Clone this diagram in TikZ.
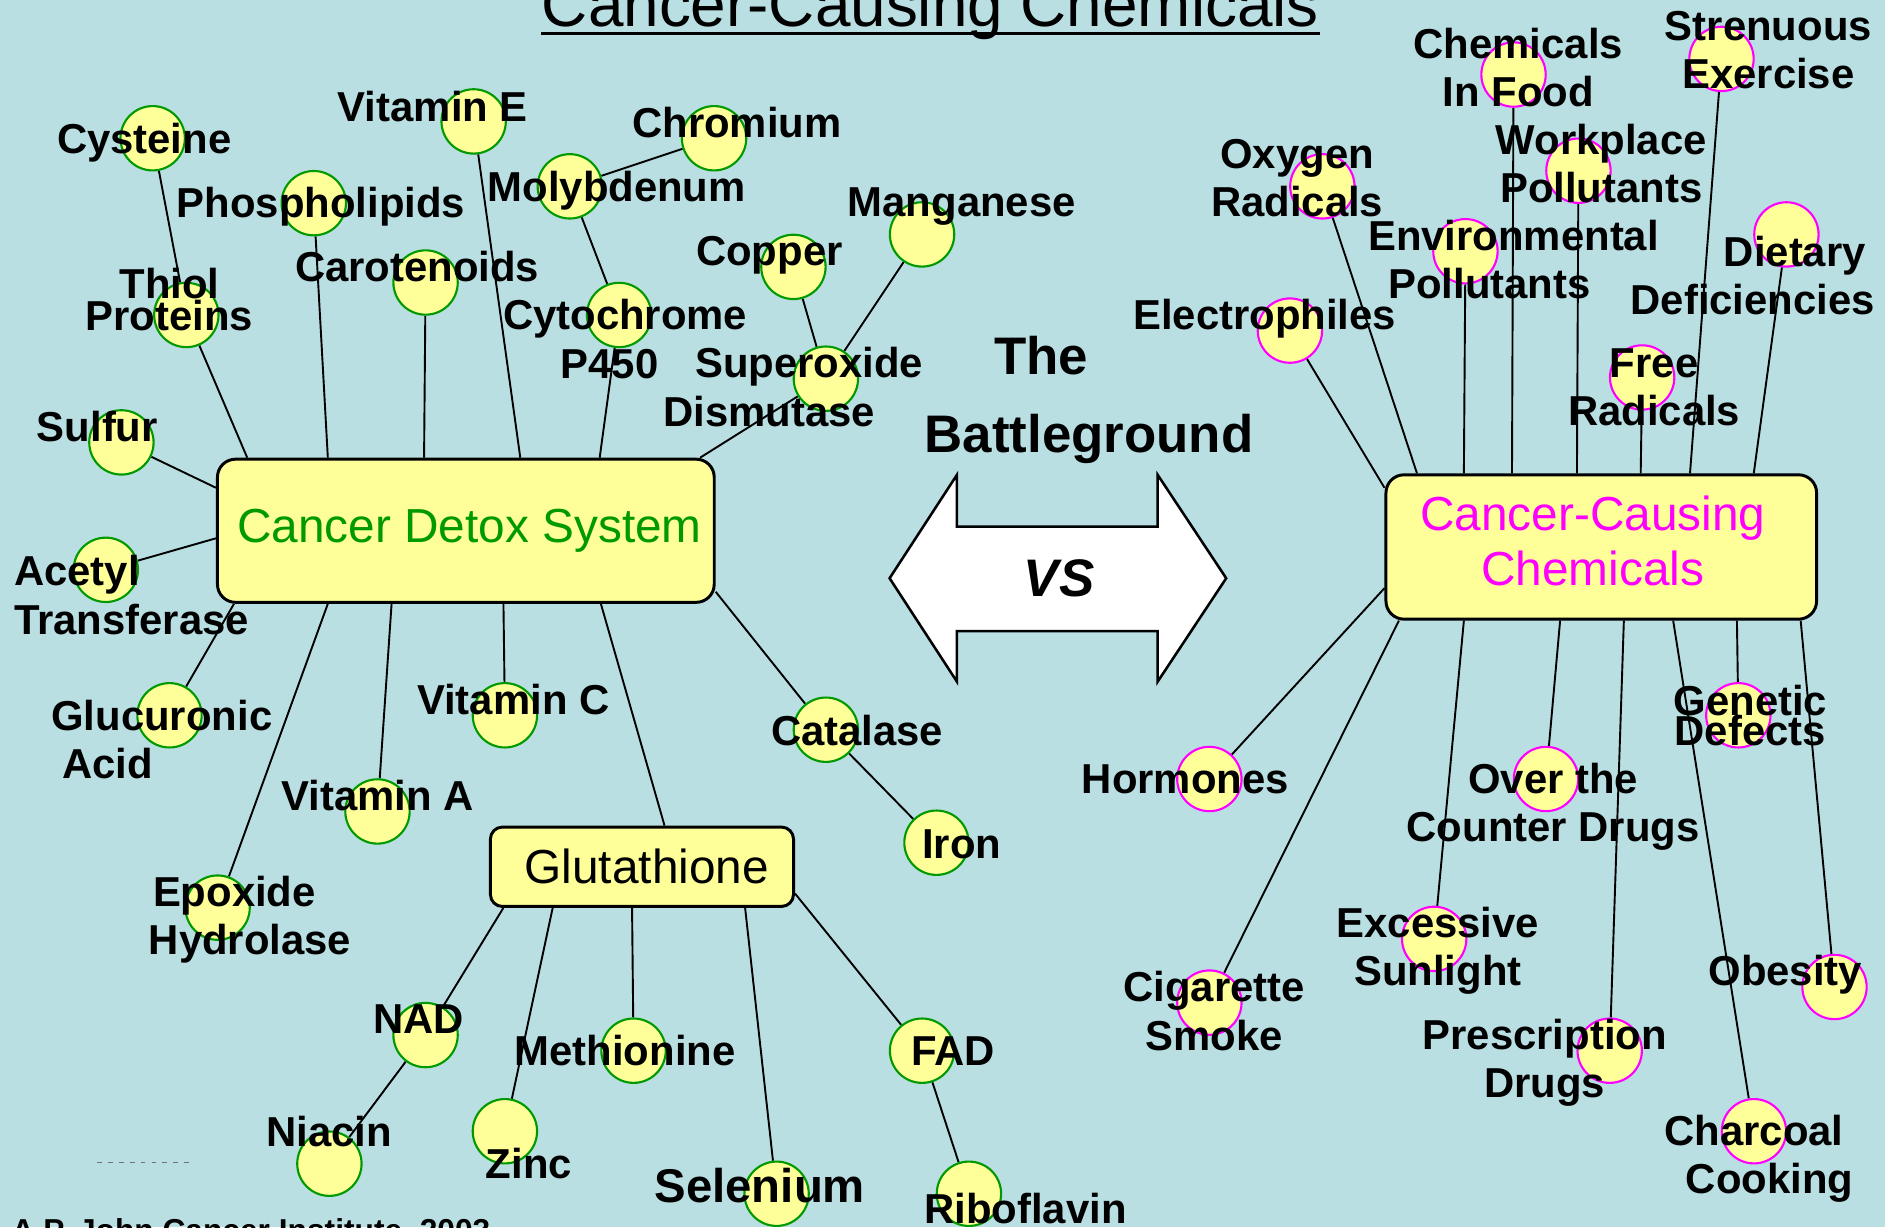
\documentclass[tikz,border=0pt]{standalone}
\usepackage{fontspec}
\setmainfont{Liberation Sans}
\usetikzlibrary{backgrounds}

\definecolor{bgblue}{RGB}{185,223,226}
\definecolor{padyellow}{RGB}{255,255,153}
\definecolor{detoxgreen}{RGB}{0,153,0}
\definecolor{causemagenta}{RGB}{255,0,255}

\begin{document}
\begin{tikzpicture}[x=0.01cm, y=-0.01cm]
        \tikzstyle{gcirc} = [draw=detoxgreen, fill=padyellow, circle, minimum size=0.535cm, inner sep=0pt, line width=0.5pt]
        \tikzstyle{mcirc} = [gcirc, draw=causemagenta]
        \tikzstyle{lbl} = [font=\bfseries\fontsize{9.9}{11.4}\selectfont, align=center, inner sep=0pt]
        \tikzstyle{hub} = [draw, fill=padyellow, rounded corners=0.15cm, line width=0.7pt, inner sep=0pt, align=center, font=\fontsize{11.3}{13}\selectfont]
        \tikzstyle{link} = [line width=0.45pt]

        \useasboundingbox (0,0) rectangle (1568,1021);
        \clip (0,0) rectangle (1568,1021);

        \node[font=\fontsize{15.1}{18}\selectfont, inner sep=0pt, anchor=base] (title) at (774,22) {Cancer-Causing Chemicals};
        \draw[line width=0.8pt] ([yshift=-0.06cm]title.base west) -- ([yshift=-0.06cm]title.base east);
        \node[font=\bfseries\fontsize{7.5}{9}\selectfont, inner sep=0pt, anchor=base west] (credit) at (9,1033) {A.P. John Cancer Institute, 2003};
        \draw[black!55, line width=0.3pt, dash pattern=on 0.04cm off 0.05cm] (81,967) -- (157,967);

        \node[hub, text=detoxgreen, minimum width=4.13cm, minimum height=1.19cm] (detox) at (387.5,441.5) {\makebox[0.06cm]{}Cancer Detox System};
        \node[hub, text=causemagenta, minimum width=3.58cm, minimum height=1.20cm] (cc) at (1332,455) {Cancer-Causing\makebox[0.14cm]{}\\Chemicals\makebox[0.14cm]{}\rule[-0.1cm]{0pt}{0.1cm}};
        \node[hub, rounded corners=0.1cm, minimum width=2.52cm, minimum height=0.66cm] (gluta) at (534,721) {\hspace*{0.08cm}Glutathione};

        \draw[fill=white, line width=0.6pt] (740,481) -- (796,395) -- (796,438) -- (963,438) -- (963,395) -- (1020,481)
            -- (963,567) -- (963,525) -- (796,525) -- (796,567) -- cycle;
        \node[font=\bfseries\itshape\fontsize{12.5}{15}\selectfont, inner sep=0pt] (vs) at (881,481) {VS};
        \node[font=\bfseries\fontsize{12.5}{18.4}\selectfont, align=center, inner sep=0pt] (battle) at (906,333) {The\makebox[0.8cm]{}\\Battleground};

        \node[gcirc] (cysteine) at (127,115) {};
        \node[gcirc] (vite) at (394,101) {};
        \node[gcirc] (chromium) at (594,115) {};
        \node[gcirc] (molyb) at (474,155) {};
        \node[gcirc] (phospho) at (261,169) {};
        \node[gcirc] (mangan) at (767,195) {};
        \node[gcirc] (copper) at (660,222) {};
        \node[gcirc] (carot) at (354,235) {};
        \node[gcirc] (thiol) at (155,262) {};
        \node[gcirc] (cyto) at (515,262) {};
        \node[gcirc] (sod) at (687,315) {};
        \node[gcirc] (sulfur) at (101,368) {};
        \node[gcirc] (acetyl) at (88,474) {};
        \node[gcirc] (glucur) at (141,595) {};
        \node[gcirc] (vitc) at (420,595) {};
        \node[gcirc] (vita) at (314,675) {};
        \node[gcirc] (epoxide) at (181,755) {};
        \node[gcirc] (catalase) at (687,607) {};
        \node[gcirc] (iron) at (779,701) {};
        \node[gcirc] (nad) at (354,861) {};
        \node[gcirc] (niacin) at (274,968) {};
        \node[gcirc] (zinc) at (420,941) {};
        \node[gcirc] (methio) at (527,874) {};
        \node[gcirc] (selen) at (646,993) {};
        \node[gcirc] (fad) at (767,874) {};
        \node[gcirc] (ribo) at (806,993) {};

        \node[mcirc] (food) at (1259,62) {};
        \node[mcirc] (strenuous) at (1432,49) {};
        \node[mcirc] (workpl) at (1313,142) {};
        \node[mcirc] (oxygen) at (1100,155) {};
        \node[mcirc] (envir) at (1219,209) {};
        \node[mcirc] (dietary) at (1486,195) {};
        \node[mcirc] (electro) at (1073,275) {};
        \node[mcirc] (free) at (1366,314) {};
        \node[mcirc] (hormones) at (1006,648) {};
        \node[mcirc] (cigarette) at (1006,834) {};
        \node[mcirc] (excessive) at (1193,781) {};
        \node[mcirc] (otc) at (1286,648) {};
        \node[mcirc] (genetic) at (1446,595) {};
        \node[mcirc] (obesity) at (1526,821) {};
        \node[mcirc] (prescr) at (1339,874) {};
        \node[mcirc] (charcoal) at (1459,941) {};

        \node[lbl] (cysteine-t) at (120,119) {Cysteine};
        \node[lbl] (vite-t) at (360,89) {Vitamin E};
        \node[lbl] (chromium-t) at (613,102) {Chromium};
        \node[lbl] (molyb-t) at (513,159) {Molybdenum};
        \node[lbl] (phospho-t) at (267,172) {Phospholipids};
        \node[lbl] (mangan-t) at (800,172) {Manganese};
        \node[lbl] (copper-t) at (640,212) {Copper};
        \node[lbl] (carot-t) at (347,222) {Carotenoids};
        \node[lbl] (thiol-t) at (141,249) {Thiol\\[-3.75pt]Proteins};
        \node[lbl] (cyto-t) at (520,282) {Cytochrome\\P450\makebox[0.26cm]{}};
        \node[lbl] (sod-t) at (673,322) {Superoxide\\Dismutase\makebox[0.66cm]{}};
        \node[lbl] (sulfur-t) at (81,355) {Sulfur};
        \node[lbl, align=left, anchor=west] (acetyl-t) at (11,495) {Acetyl\\Transferase};
        \node[lbl, align=left, anchor=west] (glucur-t) at (42,615) {Glucuronic\\\hspace*{0.09cm}Acid};
        \node[lbl] (vitc-t) at (427,582) {Vitamin C};
        \node[lbl] (vita-t) at (314,662) {Vitamin A};
        \node[lbl] (epoxide-t) at (208,765) {Epoxide\makebox[0.26cm]{}\\Hydrolase};
        \node[lbl] (catalase-t) at (713,608) {Catalase};
        \node[lbl] (iron-t) at (800,702) {Iron};
        \node[lbl] (nad-t) at (348,848) {NAD};
        \node[lbl] (niacin-t) at (274,941) {Niacin};
        \node[lbl] (zinc-t) at (440,968) {Zinc};
        \node[lbl] (methio-t) at (520,874) {Methionine};
        \node[lbl, font=\bfseries\fontsize{11.2}{13}\selectfont] (selen-t) at (632,986) {Selenium};
        \node[lbl] (fad-t) at (793,874) {FAD};
        \node[lbl] (ribo-t) at (853,1005) {Riboflavin};

        \node[lbl] (food-t) at (1263,56) {Chemicals\\In Food};
        \node[lbl] (strenuous-t) at (1471,42) {Strenuous\\Exercise};
        \node[lbl] (workpl-t) at (1332,136) {Workplace\\Pollutants};
        \node[lbl] (oxygen-t) at (1079,148) {Oxygen\\Radicals};
        \node[lbl] (envir-t) at (1259,216) {Environmental\\Pollutants\makebox[0.4cm]{}};
        \node[lbl] (dietary-t) at (1458,229) {\makebox[0.7cm]{}Dietary\\Deficiencies};
        \node[lbl] (electro-t) at (1052,265) {Electrophiles};
        \node[lbl] (free-t) at (1376,322) {Free\\Radicals};
        \node[lbl] (hormones-t) at (986,648) {Hormones};
        \node[lbl] (cigarette-t) at (1010,841) {Cigarette\\Smoke};
        \node[lbl] (excessive-t) at (1196,791) {Excessive\\Sunlight};
        \node[lbl] (otc-t) at (1292,671) {Over the\\Counter Drugs};
        \node[lbl] (genetic-t) at (1456,595) {Genetic\\[-4.3pt]Defects};
        \node[lbl] (obesity-t) at (1485,811) {Obesity};
        \node[lbl] (prescr-t) at (1285,884) {Prescription\\Drugs};
        \node[lbl] (charcoal-t) at (1459,964) {Charcoal\\\makebox[0.26cm]{}Cooking};

        \begin{scope}[on background layer]
        \fill[bgblue] (0,0) rectangle (1568,1021);
        \draw[link] (cysteine) -- (thiol);
        \draw[link] (thiol) -- ([xshift=0.26cm]detox.north west);
        \draw[link] (phospho) -- ([xshift=0.93cm]detox.north west);
        \draw[link] (carot) -- ([xshift=1.73cm]detox.north west);
        \draw[link] (vite) -- ([xshift=2.53cm]detox.north west);
        \draw[link] (chromium) -- (molyb);
        \draw[link] (molyb) -- (cyto);
        \draw[link] (cyto) -- ([xshift=3.19cm]detox.north west);
        \draw[link] (copper) -- (sod);
        \draw[link] (mangan) -- (sod);
        \draw[link] (sod) -- ([xshift=-0.13cm]detox.north east);
        \draw[link] (sulfur) -- ([yshift=-0.25cm]detox.north west);
        \draw[link] (acetyl) -- ([yshift=-0.67cm]detox.north west);
        \draw[link] (glucur) -- ([xshift=0.15cm]detox.south west);
        \draw[link] (epoxide) -- ([xshift=0.93cm]detox.south west);
        \draw[link] (vita) -- ([xshift=1.46cm]detox.south west);
        \draw[link] (vitc) -- ([xshift=2.39cm]detox.south west);
        \draw[link] ([xshift=3.20cm]detox.south west) -- ([xshift=1.46cm]gluta.north west);
        \draw[link] (catalase) -- ([yshift=0.10cm]detox.south east);
        \draw[link] (catalase) -- (iron);
        \draw[link] (nad) -- ([xshift=0.12cm]gluta.south west);
        \draw[link] (nad) -- (niacin);
        \draw[link] (zinc) -- ([xshift=0.53cm]gluta.south west);
        \draw[link] (methio) -- ([xshift=1.19cm]gluta.south west);
        \draw[link] (selen) -- ([xshift=2.13cm]gluta.south west);
        \draw[link] (fad) -- ([yshift=0.12cm]gluta.south east);
        \draw[link] (fad) -- (ribo);
        \draw[link] (electro) -- ([yshift=-0.12cm]cc.north west);
        \draw[link] (oxygen) -- ([xshift=0.27cm]cc.north west);
        \draw[link] (envir) -- ([xshift=0.66cm]cc.north west);
        \draw[link] (food) -- ([xshift=1.06cm]cc.north west);
        \draw[link] (workpl) -- ([xshift=1.60cm]cc.north west);
        \draw[link] (free) -- ([xshift=2.13cm]cc.north west);
        \draw[link] (strenuous) -- ([xshift=2.54cm]cc.north west);
        \draw[link] (dietary) -- ([xshift=3.07cm]cc.north west);
        \draw[link] (hormones) -- ([yshift=0.27cm]cc.south west);
        \draw[link] (cigarette) -- ([xshift=0.12cm]cc.south west);
        \draw[link] (excessive) -- ([xshift=0.66cm]cc.south west);
        \draw[link] (otc) -- ([xshift=1.46cm]cc.south west);
        \draw[link] (prescr) -- ([xshift=1.99cm]cc.south west);
        \draw[link] (charcoal) -- ([xshift=2.40cm]cc.south west);
        \draw[link] (genetic) -- ([xshift=2.93cm]cc.south west);
        \draw[link] (obesity) -- ([xshift=3.46cm]cc.south west);
        \end{scope}
      \end{tikzpicture}
\end{document}
